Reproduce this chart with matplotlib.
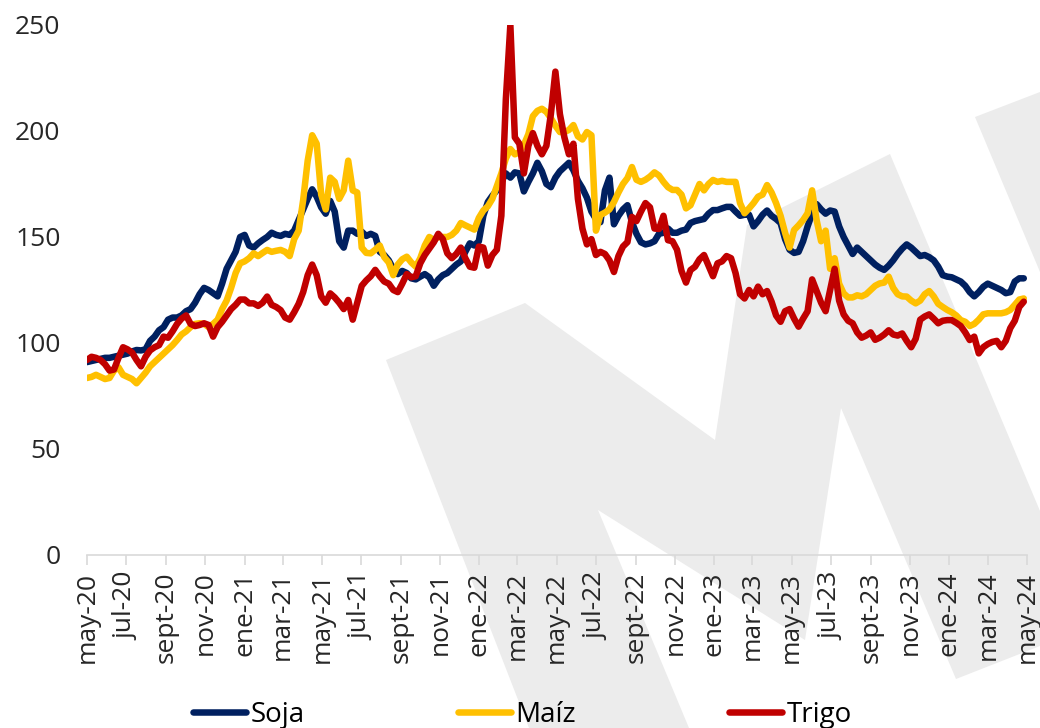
import numpy as np
import pandas as pd
import matplotlib
matplotlib.use('Agg')
import matplotlib.pyplot as plt
from matplotlib.patches import Polygon

# fechas semanales, desde el 1 de mayo de 2020
fechas = pd.date_range('2020-05-01', periods=209, freq='7D')

soja = [
    91, 91.5, 92, 92.5, 93, 93, 93.5, 94, 94.5, 95, 96, 96.7, 96.5, 97, 101, 103,
    106, 107.5, 111, 112, 112, 113, 115, 116, 119, 123, 126, 125, 123.5, 122, 128, 135,
    139, 143, 150, 151, 146, 145, 147, 148.6, 150, 152, 151, 150.5, 151.5, 151, 153, 158,
    163, 168, 172.5, 169, 164, 161, 167, 162, 148, 145, 153, 153, 151.5, 152.5, 150.5, 151.5,
    150.5, 143, 141.5, 139, 135, 132.5, 134, 133, 130.5, 130, 131.3, 132.5, 131, 127, 130, 132,
    133, 135, 137, 138.5, 143, 147, 146, 148, 160, 166.5, 169.5, 172, 176, 180, 178, 180.5,
    180, 171.5, 176, 180, 185, 181, 175, 173.5, 178, 181, 183, 185, 181.5, 176.5, 173, 168.5,
    162, 158.5, 157, 172, 178, 156, 160, 163, 165, 157, 151.5, 147.5, 146.5, 147, 148, 151.5,
    152, 154, 152, 152, 153, 153.5, 156.6, 157.5, 158, 158.5, 161, 162.7, 162.7, 163.5, 164.2, 164.2,
    162, 160, 160.5, 160.5, 155, 157.5, 160.5, 162.5, 160, 158.5, 156.6, 149, 144, 142.5, 143, 148,
    155, 161, 165.5, 163, 161, 162.5, 162, 155, 150, 146, 142, 145, 143, 141, 139, 137,
    135.5, 134.5, 136.5, 139, 142, 144.5, 146.5, 145, 143, 141, 141.5, 140.5, 139, 136, 132, 131.3,
    131, 130, 129, 127, 124, 122, 124, 126.5, 128, 127, 126, 125, 123.5, 124, 129, 130.5,
    130.5,
]
maiz = [
    83.5, 84, 85, 84, 83, 83.5, 87, 88.5, 85, 84, 83, 81, 83.5, 86, 89, 91,
    93, 95, 97, 99, 101.4, 104, 105.5, 107.5, 109, 109.3, 109, 107.5, 109, 111, 116, 120,
    126, 133, 137.6, 138.5, 140, 142.3, 141, 142.5, 143.9, 143, 143.5, 143.9, 143, 141, 149, 153,
    167.5, 186, 198, 194, 170, 163, 178, 176, 168, 172, 186, 172, 171, 145, 142.5, 142.3,
    144, 146, 140.5, 138, 132, 137, 139.5, 140.7, 138, 136, 140, 146, 150, 148.6, 150, 150,
    150, 151, 153, 156.6, 155.5, 154.5, 153.5, 159, 162.5, 164.5, 168, 174, 180, 187, 191.5, 189,
    190, 193.5, 198.5, 207, 209.5, 210.5, 209, 206, 202.5, 199.5, 199.5, 200.5, 202.8, 197.5, 196, 199.5,
    198, 153, 160.4, 161.5, 163, 166.5, 171, 175, 177.8, 183, 177, 176, 177, 178.5, 180.5, 179,
    176, 173.5, 172.2, 172.2, 170, 163.5, 165, 170, 175, 172, 175, 176.9, 176, 176.5, 176, 176,
    176, 166, 161.2, 163.5, 166, 169, 170, 174.5, 171, 166, 160, 152, 145, 153.3, 155.5, 158,
    161.2, 172, 158, 148, 153, 135, 140, 128, 123.4, 121.5, 121.5, 122.5, 122, 123, 125, 127,
    128.1, 128.5, 131.3, 126, 123, 122, 121.9, 120, 118.7, 120, 123, 124.5, 122, 118.5, 117, 115.6,
    114.5, 113, 110.8, 110, 108, 109, 111, 113.5, 114, 114, 114, 114, 114.5, 115.6, 118, 120.5,
    121,
]
trigo = [
    92, 93.5, 93, 92, 90, 87, 87.5, 93, 98, 97, 95.5, 92, 89, 93.5, 96.5, 98,
    99, 103, 102.5, 105.5, 109, 111.5, 113, 109, 108, 108.5, 109.3, 108.5, 103, 107.5, 110, 113,
    116, 118, 120.5, 120.5, 118.7, 118.7, 117.5, 119, 121.9, 118, 117, 115.5, 112, 111, 114.5, 118.5,
    124, 132, 137, 132, 122, 119, 123.4, 121.5, 119, 116, 120.3, 111, 119, 127, 129.5, 131.5,
    134.5, 131.5, 129, 128, 125, 124, 128, 132.5, 131, 131.5, 137.6, 141.5, 144.5, 147.5, 151.5, 149,
    142.3, 140, 142, 145, 140, 136, 135.5, 145.5, 145, 136.5, 141.5, 144, 160, 215, 250, 197,
    194, 180, 193, 199, 193, 189, 193, 208, 228, 208, 197, 189, 194, 168, 154, 146.5,
    149, 141.5, 143, 142, 139, 133.5, 141, 145.5, 147.6, 159.5, 157.5, 162, 166, 164, 154, 153.8,
    160, 148.5, 148, 144, 134, 128.5, 134.4, 136, 139.5, 141.5, 136.5, 131.5, 137.6, 138.5, 141, 140,
    133, 123, 121, 125, 122, 126.6, 123, 124.5, 119.5, 113, 110, 115, 116, 111.5, 107.7, 111.5,
    115, 130, 124.5, 119, 115, 125, 135, 120, 113.5, 110.5, 109.3, 105, 102.5, 103.5, 105, 101.5,
    102.5, 104, 106, 104, 103.5, 104.5, 101, 98, 102, 111, 112.5, 113.5, 111.5, 109.3, 110.5, 110.8,
    110.8, 109.5, 108, 105, 101.4, 103, 95.1, 98, 99.5, 100.5, 101, 98, 101, 107, 110.5, 117,
    119.5,
]

series = ['Soja', 'Maíz', 'Trigo']
colores = ['#002060', '#FFC000', '#C00000']
meses = {1: 'ene', 3: 'mar', 5: 'may', 7: 'jul', 9: 'sept', 11: 'nov'}

plt.rcParams['font.family'] = ['Open Sans', 'DejaVu Sans']

W, H = 1040, 728
fig = plt.figure(figsize=(W / 100, H / 100), dpi=100)

# marca de agua (M gris), en pixeles de la figura
def px(pts):
    return [(x / W, 1 - y / H) for x, y in pts]

m_logo = [(386, 360), (525, 303), (715, 440), (747, 225), (890, 154), (1040, 511),
          (1040, 646), (956, 679), (841, 408), (805, 640), (598, 510), (689, 728), (529, 728)]
m_trozo = [(975, 117), (1040, 92), (1040, 272)]
for pts in (m_logo, m_trozo):
    fig.add_artist(Polygon(px(pts), closed=True, transform=fig.transFigure,
                           facecolor='#ececec', edgecolor='none', zorder=0))

ax = fig.add_axes([87 / W, 1 - 555 / H, 940 / W, 530 / H])
ax.set_zorder(1)
ax.patch.set_alpha(0)

for nombre, vals, c in zip(series, [soja, maiz, trigo], colores):
    ax.plot(fechas, vals, color=c, lw=4.7, label=nombre, solid_capstyle='round',
            solid_joinstyle='round')

ax.set_xlim(pd.Timestamp('2020-05-01'), pd.Timestamp('2024-05-01'))
ax.set_ylim(0, 250)
ax.set_yticks(np.arange(0, 251, 50))

ticks = pd.date_range('2020-05-01', '2024-05-01', freq='2MS')
ax.set_xticks(ticks)
ax.set_xticklabels([f'{meses[d.month]}-{d.strftime("%y")}' for d in ticks],
                   rotation=90, fontsize=19, color='#262626')
for lab in ax.get_yticklabels():
    lab.set_fontsize(19)
    lab.set_color('#262626')

for s in ['top', 'right', 'left']:
    ax.spines[s].set_visible(False)
ax.spines['bottom'].set_color('#d9d9d9')
ax.spines['bottom'].set_linewidth(1.2)
ax.tick_params(axis='x', direction='out', length=7, width=1.2, color='#d9d9d9', pad=5)
ax.tick_params(axis='y', length=0, pad=19)

fig.legend(loc='center', bbox_to_anchor=(0.5024, 1 - 715 / H), ncol=3, frameon=False,
           fontsize=20, handlelength=1.9, handletextpad=0.18, columnspacing=5.5)

fig.savefig('out.png', dpi=100)
